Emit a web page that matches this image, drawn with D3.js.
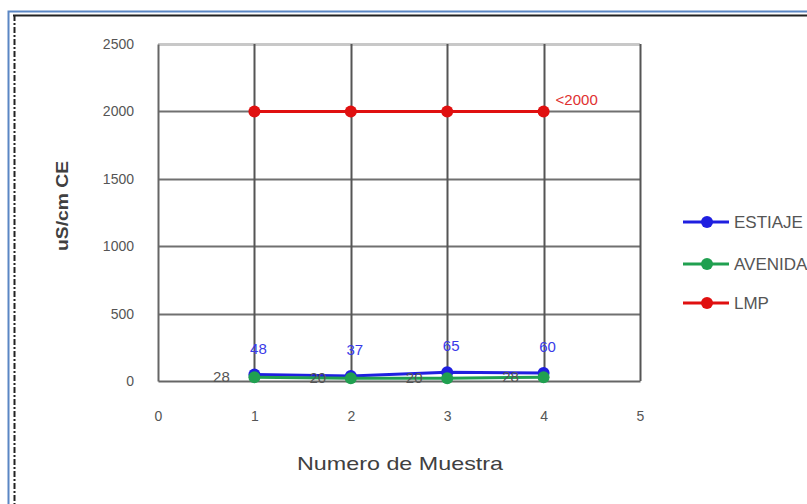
<!DOCTYPE html>
<html>
<head>
<meta charset="utf-8">
<script src="https://cdn.jsdelivr.net/npm/d3@7"></script>
<style>
  html, body { margin: 0; padding: 0; background: #fff; }
  svg { display: block; }
  text { font-family: "Liberation Sans Narrow", "Liberation Sans", sans-serif; }
</style>
</head>
<body>
<svg id="chart" width="807" height="504"></svg>
<script>
// Muestras (eje X) y valores de conductividad por serie
const muestras = [1, 2, 3, 4];
const estiaje = [48, 37, 65, 60];
const avenida = [28, 20, 20, 28];
const lmp = [2000, 2000, 2000, 2000];
const xTicks = [0, 1, 2, 3, 4, 5];
const yTicks = [0, 500, 1000, 1500, 2000, 2500];
const serieNombres = ["ESTIAJE", "AVENIDA", "LMP"];
const serieColores = ["#1f1fe0", "#20a050", "#e01010"];
const lmpEtiqueta = "<2000";

const svg = d3.select("#chart");

// Marco exterior del gráfico
svg.append("rect").attr("x", 8.5).attr("y", 11.5).attr("width", 820).attr("height", 520)
  .attr("fill", "none").attr("stroke", "#5a86c4").attr("stroke-width", 2);
svg.append("line").attr("x1", 13).attr("x2", 807).attr("y1", 15.5).attr("y2", 15.5)
  .attr("stroke", "#222").attr("stroke-width", 2);
svg.append("line").attr("x1", 14.5).attr("x2", 14.5).attr("y1", 15).attr("y2", 504)
  .attr("stroke", "#222").attr("stroke-width", 2).attr("stroke-dasharray", "6,2,2,2");

const x = d3.scaleLinear().domain([0, 5]).range([158, 640]);
const y = d3.scaleLinear().domain([0, 2500]).range([381, 44]);

// Cuadrícula
const grid = svg.append("g");
grid.selectAll("line.h").data(yTicks.filter(v => v > 0)).join("line")
  .attr("x1", x(0)).attr("x2", x(5))
  .attr("y1", d => Math.round(y(d)) + 0.5).attr("y2", d => Math.round(y(d)) + 0.5)
  .attr("stroke", d => d === 2500 ? "#c8c8c8" : "#707070")
  .attr("stroke-width", d => d === 2500 ? 3 : 2);
grid.selectAll("line.v").data(xTicks.filter(v => v > 0)).join("line")
  .attr("x1", d => Math.round(x(d)) + 0.5).attr("x2", d => Math.round(x(d)) + 0.5)
  .attr("y1", y(2500)).attr("y2", y(0))
  .attr("stroke", "#555").attr("stroke-width", 2);

// Ejes
const yAxis = svg.append("g").attr("transform", `translate(${x(0)},0)`)
  .call(d3.axisLeft(y).tickValues(yTicks).tickFormat(d3.format("d")).tickSize(0).tickPadding(24));
const xAxis = svg.append("g").attr("transform", `translate(0,${y(0)})`)
  .call(d3.axisBottom(x).tickValues(xTicks).tickFormat(d3.format("d")).tickSize(0).tickPadding(30));
[yAxis, xAxis].forEach(a => {
  a.select(".domain").attr("stroke", "#666").attr("stroke-width", 2);
  a.selectAll("text").attr("fill", "#555").attr("font-size", 14)
    .attr("font-family", "Liberation Sans Narrow, Liberation Sans, sans-serif");
});

// Títulos de ejes
svg.append("text").attr("transform", `translate(68,206) rotate(-90)`)
  .attr("text-anchor", "middle").attr("font-size", 17).attr("font-weight", "bold")
  .attr("textLength", 90).attr("lengthAdjust", "spacingAndGlyphs")
  .attr("fill", "#404040").attr("font-family", "Open Sans, sans-serif").text("uS/cm CE");
svg.append("text").attr("x", 400).attr("y", 470)
  .attr("text-anchor", "middle").attr("font-size", 19)
  .attr("textLength", 206).attr("lengthAdjust", "spacingAndGlyphs")
  .attr("fill", "#404040").attr("font-family", "Open Sans, sans-serif").text("Numero de Muestra");

// Series
const series = [estiaje, avenida, lmp];
const line = d3.line().x((d, i) => x(muestras[i])).y(d => y(d));
[2, 0, 1].forEach(s => {
  const g = svg.append("g");
  g.append("path").datum(series[s]).attr("d", line)
    .attr("fill", "none").attr("stroke", serieColores[s]).attr("stroke-width", 3);
  g.selectAll("circle").data(series[s]).join("circle")
    .attr("cx", (d, i) => x(muestras[i])).attr("cy", d => y(d)).attr("r", 6)
    .attr("fill", serieColores[s]);
});

// Etiquetas de datos
svg.append("g").selectAll("text").data(estiaje).join("text")
  .attr("x", (d, i) => x(muestras[i]) + 4).attr("y", d => y(d) - 21)
  .attr("text-anchor", "middle").attr("font-size", 15).attr("fill", "#3a3ae8").text(d => d);
svg.append("g").selectAll("text").data(avenida).join("text")
  .attr("x", (d, i) => x(muestras[i]) - 33).attr("y", d => y(d) + 5)
  .attr("text-anchor", "middle").attr("font-size", 15).attr("fill", "#555").text(d => d);
svg.append("text").attr("x", x(muestras[3]) + 12).attr("y", y(lmp[3]) - 6)
  .attr("font-size", 15).attr("fill", "#e03030").text(lmpEtiqueta);

// Leyenda
const legY = [222, 264, 303];
const leg = svg.append("g");
serieNombres.forEach((n, i) => {
  leg.append("line").attr("x1", 683).attr("x2", 729).attr("y1", legY[i]).attr("y2", legY[i])
    .attr("stroke", serieColores[i]).attr("stroke-width", 3);
  leg.append("circle").attr("cx", 707).attr("cy", legY[i]).attr("r", 6).attr("fill", serieColores[i]);
  leg.append("text").attr("x", 734).attr("y", legY[i] + 6).attr("font-size", 17)
    .attr("fill", "#555").attr("font-family", "Open Sans, sans-serif").text(n);
});
</script>
</body>
</html>
